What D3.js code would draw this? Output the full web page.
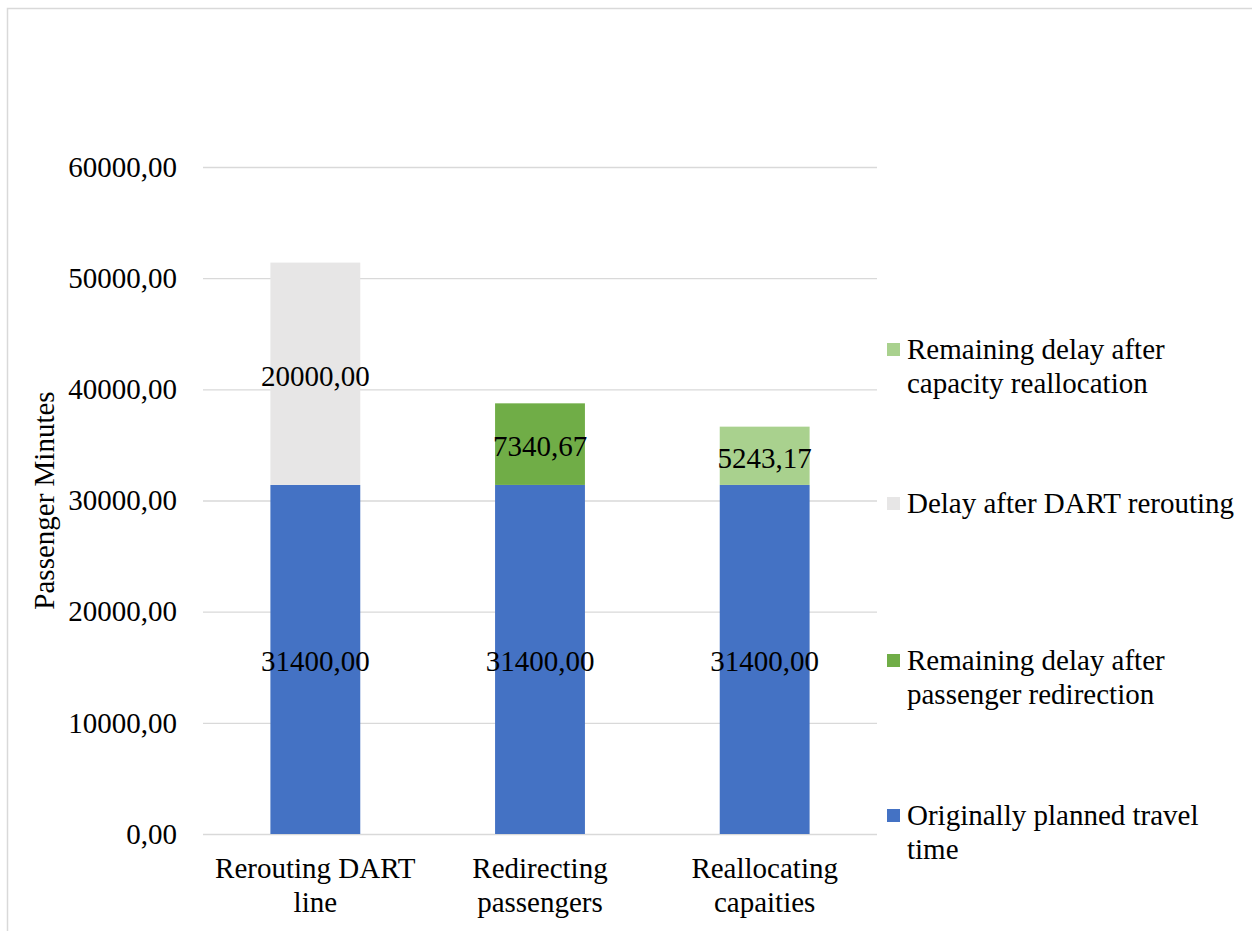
<!DOCTYPE html>
<html>
<head>
<meta charset="utf-8">
<script src="https://cdn.jsdelivr.net/npm/d3@7"></script>
<style>
  body { margin: 0; background: #fff; }
  svg text { font-family: "Liberation Serif", "Times New Roman", serif !important; fill: #000; }
</style>
</head>
<body>
<div id="chart"></div>
<script>
// Data
const categories = [["Rerouting DART", "line"], ["Redirecting", "passengers"], ["Reallocating", "capaities"]];
const seriesNames = [
  "Originally planned travel time",
  "Delay after DART rerouting",
  "Remaining delay after passenger redirection",
  "Remaining delay after capacity reallocation",
];
const planned = [31400, 31400, 31400];
const dartDelay = [20000, 0, 0];
const redirectDelay = [0, 7340.67, 0];
const reallocDelay = [0, 0, 5243.17];
const yTicks = [0, 10000, 20000, 30000, 40000, 50000, 60000];

const colors = ["#4472C4", "#E7E6E6", "#70AD47", "#A9D18E"];

const W = 1252, H = 931;
const margin = { top: 167, right: 375, bottom: 97, left: 203 };
const width = W - margin.left - margin.right;
const height = H - margin.top - margin.bottom;
const fs = 29;

const svg = d3.select("#chart").append("svg").attr("width", W).attr("height", H);

// outer border
svg.append("rect")
  .attr("x", 7.5).attr("y", 8.5)
  .attr("width", W + 10).attr("height", H + 10)
  .attr("fill", "none").attr("stroke", "#d9d9d9").attr("stroke-width", 1.5);

const g = svg.append("g").attr("transform", `translate(${margin.left},${margin.top})`);

const x = d3.scaleBand().domain(d3.range(categories.length)).range([0, width])
  .paddingInner(0.6).paddingOuter(0.3);
const y = d3.scaleLinear().domain([0, 60000]).range([height, 0]);

const fmt = (v) => d3.format(".2f")(v).replace(".", ",");

// gridlines
g.append("g")
  .call(d3.axisLeft(y).tickValues(yTicks).tickSize(-width).tickFormat(""))
  .call((s) => s.select(".domain").remove())
  .call((s) => s.selectAll("line").attr("stroke", "#d9d9d9").attr("stroke-width", 1.3));

// y tick labels
g.append("g")
  .attr("font-family", null)
  .call(d3.axisLeft(y).tickValues(yTicks).tickSize(0).tickPadding(26).tickFormat(fmt))
  .call((s) => s.select(".domain").remove())
  .call((s) => s.attr("font-family", null).attr("font-size", null))
  .call((s) => s.selectAll("text").attr("font-size", fs));

// stacked data
const rows = categories.map((c, i) => ({
  i,
  s0: planned[i], s1: dartDelay[i], s2: redirectDelay[i], s3: reallocDelay[i],
}));
const stack = d3.stack().keys(["s0", "s1", "s2", "s3"])(rows);

stack.forEach((layer, k) => {
  const lg = g.append("g");
  const segs = layer.filter((d) => d[1] - d[0] > 0);
  lg.selectAll("rect")
    .data(segs)
    .enter()
    .append("rect")
    .attr("x", (d) => x(d.data.i))
    .attr("width", x.bandwidth())
    .attr("y", (d) => y(d[1]))
    .attr("height", (d) => y(d[0]) - y(d[1]))
    .attr("fill", colors[k]);
  lg.selectAll("text")
    .data(segs)
    .enter()
    .append("text")
    .attr("x", (d) => x(d.data.i) + x.bandwidth() / 2)
    .attr("y", (d) => (y(d[0]) + y(d[1])) / 2 + 12)
    .attr("text-anchor", "middle")
    .attr("font-size", fs)
    .text((d) => fmt(d[1] - d[0]));
});

// category labels
categories.forEach((lines, i) => {
  const cx = x(i) + x.bandwidth() / 2;
  const t = g.append("text")
    .attr("text-anchor", "middle")
    .attr("font-size", fs)
    .attr("x", cx)
    .attr("y", height + 44);
  lines.forEach((ln, j) => {
    t.append("tspan").attr("x", cx).attr("dy", j === 0 ? 0 : 34).text(ln);
  });
});

// y axis title
svg.append("text")
  .attr("transform", `translate(54,${margin.top + height / 2}) rotate(-90)`)
  .attr("text-anchor", "middle")
  .attr("font-size", fs)
  .text("Passenger Minutes");

// legend (reverse order, top to bottom)
const legendItems = [
  { k: 3, lines: ["Remaining delay after", "capacity reallocation"], y: 359 },
  { k: 1, lines: ["Delay after DART rerouting"], y: 513 },
  { k: 2, lines: ["Remaining delay after", "passenger redirection"], y: 670 },
  { k: 0, lines: ["Originally planned travel", "time"], y: 825 },
];
const legend = svg.append("g");
legendItems.forEach((it) => {
  legend.append("rect")
    .attr("x", 887).attr("y", it.y - 16)
    .attr("width", 13).attr("height", 13)
    .attr("fill", colors[it.k]);
  const t = legend.append("text").attr("font-size", fs).attr("x", 907).attr("y", it.y);
  it.lines.forEach((ln, j) => {
    t.append("tspan").attr("x", 907).attr("dy", j === 0 ? 0 : 34).text(ln);
  });
});
</script>
</body>
</html>
